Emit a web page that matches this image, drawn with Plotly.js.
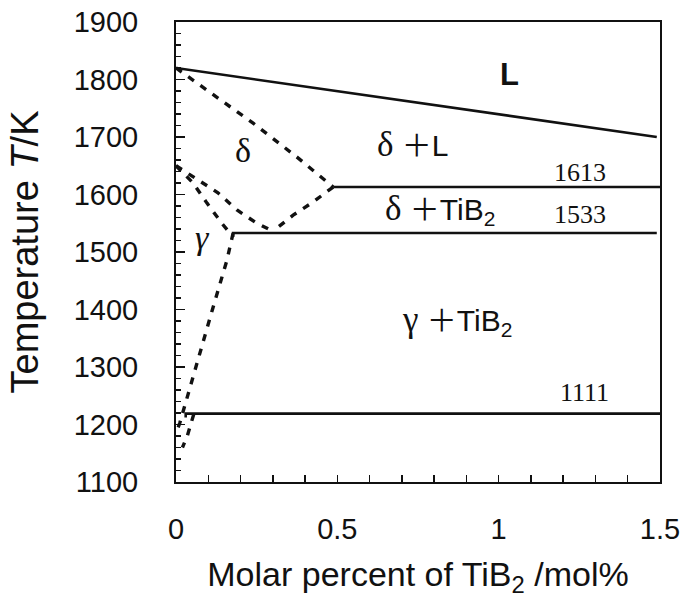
<!DOCTYPE html>
<html>
<head>
<meta charset="utf-8">
<script src="https://cdn.plot.ly/plotly-3.0.1.min.js"></script>
<style>
  html, body { margin: 0; padding: 0; background: #fff; }
  #chart { width: 686px; height: 614px; }
</style>
</head>
<body>
<div id="chart"></div>
<script>
// ---- Data ----
// Solid phase-boundary lines (x: mol% TiB2, T: K)
const liquidusX = [0, 1.49];
const liquidusT = [1820, 1700];
const iso1613X = [0.487, 1.5];
const iso1613T = [1613, 1613];
const iso1533X = [0.177, 0.177, 1.49];
const iso1533T = [1526, 1533, 1533];
const iso1111X = [0.03, 0.03, 1.5];
const iso1111T = [1212, 1219, 1219];

// Dashed phase-boundary lines
const deltaSolidusX = [0, 0.053, 0.239, 0.375, 0.487];
const deltaSolidusT = [1820, 1799, 1724, 1665, 1613];
const deltaSolvusX = [0.487, 0.425, 0.363, 0.313, 0.30];
const deltaSolvusT = [1613, 1587, 1564, 1543, 1536];
const deltaGammaX = [0, 0.068, 0.13, 0.189, 0.245, 0.30];
const deltaGammaT = [1650, 1625, 1603, 1573, 1552, 1536];
const gammaDeltaX = [0, 0.053, 0.096, 0.142, 0.177];
const gammaDeltaT = [1650, 1620, 1585, 1550, 1526];
const gammaSolvusX = [0.177, 0.158, 0.115, 0.074, 0.034, 0.012, 0];
const gammaSolvusT = [1533, 1486, 1404, 1324, 1243, 1203, 1185];
const lowSolvusX = [0.055, 0.035, 0.02];
const lowSolvusT = [1218, 1180, 1160];

// Region labels and isotherm labels
const labelText = ["L", "δ ＋L", "δ", "1613", "δ ＋TiB<sub>2</sub>", "1533", "γ", "γ ＋TiB<sub>2</sub>", "1111"];
const labelX = [1.035, 0.734, 0.208, 1.252, 0.818, 1.252, 0.081, 0.871, 1.267];
const labelT = [1808, 1690, 1677, 1639, 1577, 1566, 1526, 1385, 1255];

const xTickVals = [0, 0.5, 1, 1.5];
const xTickText = ["0", "0.5", "1", "1.5"];

// ---- Build traces ----
const SANS = "Liberation Sans, Arial, sans-serif";
const SERIF = "Liberation Serif, Times New Roman, serif";

function solid(x, y) {
  return { x: x, y: y, mode: "lines", type: "scatter", hoverinfo: "skip",
           line: { color: "#111", width: 2.6 } };
}
function dashed(x, y) {
  return { x: x, y: y, mode: "lines", type: "scatter", hoverinfo: "skip",
           line: { color: "#111", width: 3.4, dash: "7px,8px" } };
}

const traces = [
  solid(liquidusX, liquidusT),
  solid(iso1613X, iso1613T),
  solid(iso1533X, iso1533T),
  solid(iso1111X, iso1111T),
  dashed(deltaSolidusX, deltaSolidusT),
  dashed(deltaSolvusX, deltaSolvusT),
  dashed(deltaGammaX, deltaGammaT),
  dashed(gammaDeltaX, gammaDeltaT),
  dashed(gammaSolvusX, gammaSolvusT),
  dashed(lowSolvusX, lowSolvusT)
];

function styled(t) {
  if (/^\d+$/.test(t)) return t;
  return t
    .replace(/(δ|γ)/g, '<span style="font-family:Liberation Serif;font-size:35px">$1</span>')
    .replace(/＋/g, '<span style="font-family:Noto Sans CJK JP">＋</span>');
}

const annotations = labelText.map((t, i) => {
  const isNum = /^\d+$/.test(t);
  const isGreekOnly = (t === "δ" || t === "γ");
  return {
    x: labelX[i], y: labelT[i], xref: "x", yref: "y",
    text: isGreekOnly ? t : styled(t), showarrow: false,
    font: {
      family: isNum || isGreekOnly ? SERIF : SANS,
      size: isNum ? 26 : (isGreekOnly ? 34 : (t === "L" ? 31 : 30)),
      color: "#111",
      weight: t === "L" ? "bold" : "normal",
      style: t === "γ" ? "italic" : "normal"
    },
    xanchor: "center", yanchor: "middle"
  };
});

const layout = {
  width: 686, height: 614,
  margin: { l: 176, r: 26, t: 22, b: 132 },
  paper_bgcolor: "#fff", plot_bgcolor: "#fff",
  showlegend: false,
  font: { family: SANS, color: "#111" },
  xaxis: {
    range: [0, 1.5],
    tickvals: xTickVals, ticktext: xTickText,
    ticks: "inside", ticklen: 7, tickwidth: 1.5, tickcolor: "#111",
    minor: { dtick: 0.1, tick0: 0, ticks: "inside", ticklen: 7, tickwidth: 1.5, tickcolor: "#111" },
    showline: true, linecolor: "#111", linewidth: 2, mirror: true,
    showgrid: false, zeroline: false,
    tickfont: { family: SANS, size: 29, color: "#111" },
    ticklabelstandoff: 20,
    title: { text: "Molar percent of TiB<sub>2</sub> /mol%", font: { family: SANS, size: 34, color: "#111" }, standoff: 18 },
    automargin: false
  },
  yaxis: {
    range: [1100, 1900], dtick: 100,
    ticks: "inside", ticklen: 9, tickwidth: 1.5, tickcolor: "#111",
    minor: { dtick: 20, ticks: "inside", ticklen: 5, tickwidth: 1.5, tickcolor: "#111" },
    showline: true, linecolor: "#111", linewidth: 2, mirror: true,
    showgrid: false, zeroline: false,
    tickfont: { family: SANS, size: 29, color: "#111" },
    ticklabelstandoff: 30,
    title: { text: "Temperature <i>T</i>/K", font: { family: SANS, size: 38, color: "#111" }, standoff: 23 },
    automargin: false
  },
  annotations: annotations
};

Plotly.newPlot("chart", traces, layout, { displayModeBar: false, staticPlot: true });
</script>
</body>
</html>
